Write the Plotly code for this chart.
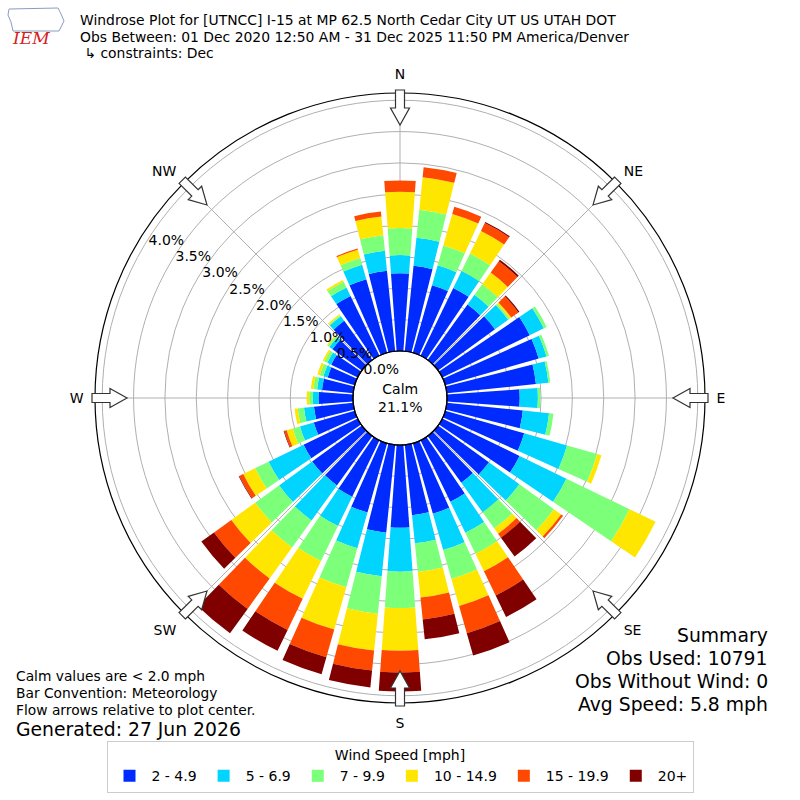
import math

import plotly.graph_objects as go

# 10 degree direction bins, meteorological convention (direction wind comes from)
DIRECTIONS = list(range(0, 360, 10))

SPEED_BINS = ["2 - 4.9", "5 - 6.9", "7 - 9.9", "10 - 14.9", "15 - 19.9", "20+"]
BIN_COLORS = ["#002bff", "#00d4ff", "#7cff79", "#ffe600", "#ff4800", "#800000"]

# frequency (%) of each speed bin, per direction
FREQ_2_5 = [1.24, 1.37, 1.12, 1.20, 1.09, 1.12, 1.55, 1.55, 1.43, 1.16, 1.22, 1.31,
            1.37, 1.00, 0.92, 1.09, 1.17, 1.13, 1.32, 1.41, 1.15, 1.00, 0.97, 0.98,
            0.96, 0.68, 0.63, 0.55, 0.50, 0.45, 0.47, 0.58, 0.77, 1.06, 1.22, 1.29]
FREQ_5_7 = [0.29, 0.45, 0.33, 0.30, 0.19, 0.26, 0.25, 0.13, 0.20, 0.29, 0.42, 0.71,
            0.83, 0.60, 0.58, 0.55, 0.60, 0.45, 0.70, 0.70, 0.59, 0.52, 0.69, 0.65,
            0.62, 0.23, 0.16, 0.09, 0.08, 0.07, 0.07, 0.06, 0.09, 0.15, 0.24, 0.32]
FREQ_7_10 = [0.43, 0.45, 0.33, 0.31, 0.21, 0.03, 0.05, 0.04, 0.03, 0.04, 0.07, 0.50,
             1.12, 0.68, 0.32, 0.37, 0.48, 0.46, 0.58, 0.60, 0.65, 0.62, 0.53, 0.47,
             0.24, 0.12, 0.10, 0.06, 0.06, 0.06, 0.05, 0.03, 0.02, 0.10, 0.11, 0.25]
FREQ_10_15 = [0.58, 0.52, 0.52, 0.40, 0.23, 0.03, 0.00, 0.00, 0.00, 0.00, 0.00, 0.07,
              0.46, 0.14, 0.10, 0.31, 0.45, 0.41, 0.68, 0.59, 0.70, 0.67, 0.61, 0.47,
              0.21, 0.10, 0.05, 0.04, 0.04, 0.04, 0.03, 0.02, 0.02, 0.03, 0.14, 0.30]
FREQ_15_20 = [0.18, 0.16, 0.12, 0.14, 0.22, 0.14, 0.00, 0.00, 0.00, 0.00, 0.00, 0.00,
              0.00, 0.04, 0.08, 0.43, 0.45, 0.35, 0.35, 0.32, 0.46, 0.55, 0.60, 0.34,
              0.07, 0.04, 0.00, 0.00, 0.00, 0.00, 0.00, 0.00, 0.00, 0.00, 0.02, 0.08]
FREQ_20_UP = [0.00, 0.00, 0.00, 0.02, 0.03, 0.02, 0.00, 0.00, 0.00, 0.00, 0.00, 0.00,
              0.00, 0.00, 0.37, 0.38, 0.37, 0.32, 0.30, 0.27, 0.28, 0.37, 0.48, 0.25,
              0.01, 0.01, 0.00, 0.00, 0.00, 0.00, 0.00, 0.00, 0.00, 0.00, 0.00, 0.00]

CALM_PCT = 21.1
COMPASS_VALS = [0, 45, 90, 135, 180, 225, 270, 315]
COMPASS_TEXT = ["N", "NE", "E", "SE", "S", "SW", "W", "NW"]

TITLE_LINES = [
    "Windrose Plot for [UTNCC] I-15 at MP 62.5 North Cedar City UT US UTAH DOT",
    "Obs Between: 01 Dec 2020 12:50 AM - 31 Dec 2025 11:50 PM America/Denver",
    " ↳ constraints: Dec",
]
NOTE_LINES = [
    "Calm values are < 2.0 mph",
    "Bar Convention: Meteorology",
    "Flow arrows relative to plot center.",
]
GENERATED = "Generated: 27 Jun 2026"
SUMMARY_LINES = ["Summary", "Obs Used: 10791", "Obs Without Wind: 0", "Avg Speed: 5.8 mph"]

FONT = "DejaVu Sans"
W = H = 800
CX, CY, RAD, HOLE = 400, 398, 305, 47  # polar centre / radius in pixels
RADIAL_ANGLE = 149  # where the % labels sit (degrees, counter-clockwise from east)


def px(x, y):
    """Pixel position -> paper coords."""
    return x / W, 1 - y / H


def to_path(points):
    out = []
    for x, y in points:
        u, v = px(x, y)
        out.append(f"{u:.5f},{v:.5f}")
    return "M" + " L".join(out) + " Z"


def arrow_path(theta):
    """Open block arrow on the rim pointing to the centre."""
    pts = [(308, -4.5), (290, -4.5), (290, -9.5), (273, 0),
           (290, 9.5), (290, 4.5), (308, 4.5)]
    s, c = math.sin(math.radians(theta)), math.cos(math.radians(theta))
    return to_path([(CX + r * s + v * c, CY - r * c + v * s) for r, v in pts])


fig = go.Figure()
series = [FREQ_2_5, FREQ_5_7, FREQ_7_10, FREQ_10_15, FREQ_15_20, FREQ_20_UP]
for name, color, vals in zip(SPEED_BINS, BIN_COLORS, series):
    fig.add_trace(go.Barpolar(
        r=vals, theta=DIRECTIONS, name=name,
        marker=dict(color=color, line=dict(width=0)),
    ))

annotations = []
for i, line in enumerate(TITLE_LINES):
    x, y = px(78, 20 + i * 16.5)
    annotations.append(dict(x=x, y=y, text=line, xanchor="left", yanchor="middle",
                            font=dict(size=13.9, color="black")))
for i, line in enumerate(NOTE_LINES):
    x, y = px(14, 676 + i * 17)
    annotations.append(dict(x=x, y=y, text=line, xanchor="left", yanchor="middle",
                            font=dict(size=13.8, color="black")))
x, y = px(14, 729)
annotations.append(dict(x=x, y=y, text=GENERATED, xanchor="left", yanchor="middle",
                        font=dict(size=18.8, color="black")))
for i, line in enumerate(SUMMARY_LINES):
    x, y = px(770, 635 + i * 23.3)
    annotations.append(dict(x=x, y=y, text=line, xanchor="right", yanchor="middle",
                            font=dict(size=18.8, color="black")))
x, y = px(CX, CY)
annotations.append(dict(x=x, y=y, text=f"Calm<br>{CALM_PCT:.1f}%", xanchor="center",
                        yanchor="middle", font=dict(size=14, color="black")))
# IEM logo, rough stand-in
x, y = px(31, 38)
annotations.append(dict(x=x, y=y, text="<i>IEM</i>", xanchor="center", yanchor="middle",
                        font=dict(size=17, color="#d62020", family="DejaVu Serif")))
for a in annotations:
    a.update(xref="paper", yref="paper", showarrow=False)

shapes = [dict(type="path", path=arrow_path(t), xref="paper", yref="paper",
               fillcolor="white", line=dict(color="#333333", width=1.2))
          for t in COMPASS_VALS]
shapes.append(dict(type="path", xref="paper", yref="paper", fillcolor="white",
                   line=dict(color="#8a9cc4", width=1),
                   path=to_path([(9, 9), (58, 8), (61, 14), (64, 21), (61, 27),
                                 (59, 31), (13, 31), (11, 22), (8, 15)])))
# calm circle outline
x0, y1 = px(CX - HOLE, CY - HOLE)
x1, y0 = px(CX + HOLE, CY + HOLE)
shapes.append(dict(type="circle", xref="paper", yref="paper", x0=x0, x1=x1, y0=y0, y1=y1,
                   line=dict(color="black", width=1.2)))

fig.update_layout(
    width=W, height=H, autosize=False,
    margin=dict(l=0, r=0, t=0, b=0),
    paper_bgcolor="white",
    font=dict(family=FONT, color="black"),
    polar=dict(
        domain=dict(x=[(CX - RAD) / W, (CX + RAD) / W],
                    y=[1 - (CY + RAD) / H, 1 - (CY - RAD) / H]),
        hole=HOLE / RAD,
        bgcolor="white",
        barmode="stack",
        bargap=0.17,
        radialaxis=dict(
            range=[0, 4.115], dtick=0.5, tickformat=".1f", ticksuffix="%",
            angle=RADIAL_ANGLE, tickangle=RADIAL_ANGLE, showline=False, ticks="",
            gridcolor="#b0b0b0", gridwidth=1, layer="above traces",
            tickfont=dict(size=14, color="black"),
        ),
        angularaxis=dict(
            rotation=90, direction="clockwise",
            tickmode="array", tickvals=COMPASS_VALS, ticktext=COMPASS_TEXT,
            showline=True, linecolor="black", linewidth=1.2,
            ticks="outside", ticklen=8, tickcolor="rgba(0,0,0,0)",
            gridcolor="#b0b0b0", gridwidth=1, layer="above traces",
            tickfont=dict(size=14, color="black"),
        ),
    ),
    legend=dict(
        orientation="h", x=0.5, xanchor="center", y=1 - 741 / H, yanchor="top",
        title=dict(text="Wind Speed [mph]", side="top center", font=dict(size=14)),
        font=dict(size=14), bordercolor="#cccccc", borderwidth=1,
        itemwidth=34, traceorder="normal",
    ),
    annotations=annotations,
    shapes=shapes,
)

fig.write_html("out.html", config={"displayModeBar": False},
               post_script="document.body.style.margin='0px';")
